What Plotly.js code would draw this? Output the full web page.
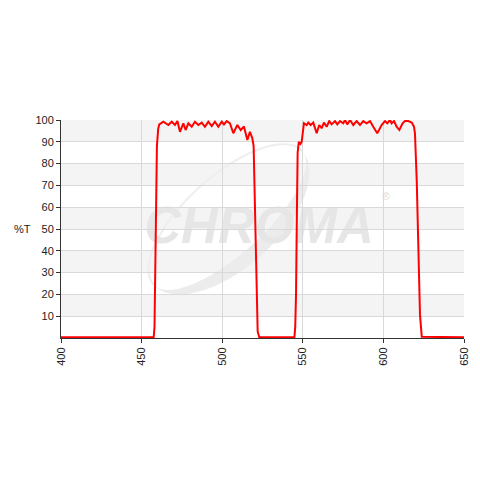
<!DOCTYPE html>
<html>
<head>
<meta charset="utf-8">
<script src="https://cdn.plot.ly/plotly-3.0.1.min.js"></script>
<style>html,body{margin:0;padding:0;background:#fff;}#chart{width:480px;height:480px;}</style>
</head>
<body>
<div id="chart"></div>
<script>
// Wavelength (nm)
var wavelength = [400, 457.5, 458, 458.5, 459, 459.5, 460.3, 461, 463.5, 466.6, 468.7, 470.7, 472.2, 473.8,
  475.9, 477.3, 479, 481.1, 483.1, 485.2, 487.3, 489.3, 491.4, 493.5, 495.5, 497.6, 499.7, 501.1, 502.8,
  504.8, 506.9, 509.4, 511.5, 513.5, 515.6, 517.2, 518.7, 519.5, 520.2, 520.8, 521.4, 522, 523,
  544.8, 545.3, 545.8, 546.3, 546.8, 547.5, 548.5, 549.3, 550.7, 552.4, 553.4, 554.9, 556.5, 558.6,
  560.2, 561.7, 563.1, 564.8, 566.4, 567.9, 570, 571.4, 573.1, 575.1, 576.2, 577.6, 579.3, 581.3,
  583.4, 585.5, 587.5, 589.6, 591.7, 593.7, 596.2, 598.9, 601, 602.4, 604.1, 605.1, 606.6, 608.2,
  609.9, 611.9, 613.4, 615.4, 617.6, 619, 619.6, 620.7, 621.7, 622.7, 623.8, 650];
// Transmission (%T)
var transmission = [0.3, 0.3, 5, 25, 60, 88, 96, 98, 99.2, 97.7, 99.2, 97.7, 99.5, 94.6,
  98.5, 95.4, 98.5, 96.9, 99.2, 97.7, 98.8, 96.9, 99.2, 97.2, 99.2, 96.9, 99.2, 98, 99.5,
  98.5, 93.9, 97.7, 95.4, 97, 90.8, 94.6, 91.6, 88, 60, 35, 13, 3, 0.3,
  0.3, 5, 20, 55, 85, 90, 89, 90, 98.5, 97.7, 98.8, 97.7, 98.8, 93.9,
  97.7, 96.2, 98.8, 96.9, 99.5, 98, 99.5, 98, 99.5, 98.5, 100, 98, 100, 97.7,
  99.5, 97.7, 99.5, 98.5, 99.5, 96.9, 93.9, 97.7, 99.5, 98.5, 100, 98.5, 99.5, 96.9,
  95.4, 98.5, 99.5, 99.5, 98.8, 96.9, 93.6, 71.7, 33.5, 10.6, 0.6, 0.3];
var yTicks = [10, 20, 30, 40, 50, 60, 70, 80, 90, 100];
var xTicks = [400, 450, 500, 550, 600, 650];

var shapes = [];
// alternating bands
for (var b = 10; b < 100; b += 20) {
  shapes.push({type: 'rect', xref: 'paper', yref: 'y', x0: 0, x1: 1, y0: b, y1: b + 10,
    fillcolor: '#f4f4f4', line: {width: 0}, layer: 'below'});
}
// watermark swoosh (crescent), in pixel space converted to paper
var L = 61, R = 464, T = 120, B = 338;
function toPaper(px, py) { return [(px - L) / (R - L), (B - py) / (B - T)]; }
var cx = 228, cy = 218, a = 100, th = -42 * Math.PI / 180;
var u = [Math.cos(th), Math.sin(th)], v = [-Math.sin(th), Math.cos(th)];
function ell(t, bb) {
  return toPaper(cx + a * Math.cos(t) * u[0] + bb * Math.sin(t) * v[0],
                 cy + a * Math.cos(t) * u[1] + bb * Math.sin(t) * v[1]);
}
var p = '', i, n = 40, q;
for (i = 0; i <= n; i++) { q = ell(Math.PI * i / n, 50); p += (i ? 'L' : 'M') + q[0] + ',' + q[1]; }
for (i = n; i >= 0; i--) { q = ell(Math.PI * i / n, 36); p += 'L' + q[0] + ',' + q[1]; }
p += 'Z';
shapes.push({type: 'path', xref: 'paper', yref: 'paper', path: p, fillcolor: '#ececec',
  line: {width: 0}, layer: 'between'});
var p2 = '';
for (i = 0; i <= n; i++) { q = ell(Math.PI + Math.PI * i / n, 42); p2 += (i ? 'L' : 'M') + q[0] + ',' + q[1]; }
shapes.push({type: 'path', xref: 'paper', yref: 'paper', path: p2,
  line: {width: 2, color: '#eeeeee'}, layer: 'between'});
// watermark text holder
var t1 = toPaper(142, 190), t2 = toPaper(376, 250);
shapes.push({type: 'rect', xref: 'paper', yref: 'paper', x0: t1[0], x1: t2[0], y0: t2[1], y1: t1[1],
  line: {width: 0}, fillcolor: 'rgba(0,0,0,0)', layer: 'between',
  label: {text: '<b><i>CHROMA</i></b>', font: {family: 'Liberation Sans, Arial, sans-serif', size: 51, color: '#e6e6e6'},
    textposition: 'middle center'}});

var trace = {
  x: wavelength, y: transmission, type: 'scatter', mode: 'lines',
  line: {color: '#ff0000', width: 2}, hoverinfo: 'skip'
};

var layout = {
  width: 480, height: 480,
  margin: {l: 61, r: 16, t: 120, b: 142, pad: 0},
  paper_bgcolor: '#ffffff', plot_bgcolor: '#ffffff',
  showlegend: false,
  font: {family: 'Liberation Sans, Arial, sans-serif', size: 11, color: '#222'},
  xaxis: {
    range: [400, 650], tickvals: xTicks, tickangle: -90,
    ticks: 'outside', ticklen: 4, tickcolor: '#333',
    showline: true, linecolor: '#333', linewidth: 1, mirror: false,
    showgrid: true, gridcolor: '#d9d9d9', gridwidth: 1, zeroline: false,
    tickfont: {family: 'Liberation Sans, Arial, sans-serif', size: 11, color: '#222'}
  },
  yaxis: {
    range: [0, 100], tickvals: yTicks,
    ticks: 'outside', ticklen: 4, tickcolor: '#333',
    showline: true, linecolor: '#333', linewidth: 1,
    showgrid: true, gridcolor: '#d9d9d9', gridwidth: 1, zeroline: false,
    tickfont: {family: 'Liberation Sans, Arial, sans-serif', size: 11, color: '#222'}
  },
  shapes: shapes,
  annotations: [
    {text: '%T', xref: 'paper', yref: 'paper', x: (22 - L) / (R - L), y: 0.5,
     xanchor: 'center', yanchor: 'middle', showarrow: false, font: {size: 11, color: '#222'}},
    {text: '®', xref: 'paper', yref: 'paper', x: (386 - L) / (R - L), y: (B - 196) / (B - T),
     xanchor: 'center', yanchor: 'middle', showarrow: false, font: {size: 11, color: '#e0e0e0'}}
  ]
};

Plotly.newPlot('chart', [trace], layout, {displayModeBar: false, staticPlot: true});
</script>
</body>
</html>
